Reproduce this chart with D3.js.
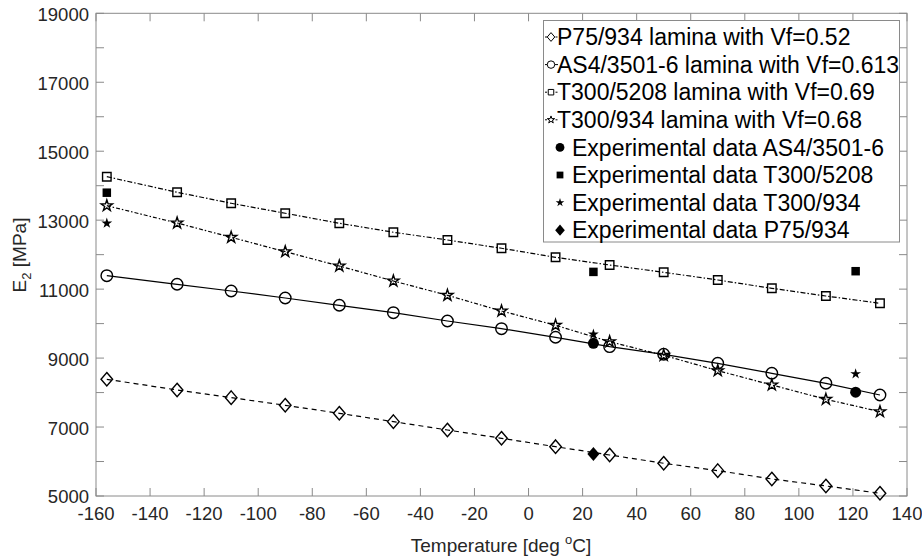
<!DOCTYPE html>
<html>
<head>
<meta charset="utf-8">
<script src="https://cdn.jsdelivr.net/npm/d3@7"></script>
<style>
  body { margin: 0; background: #fff; }
  text { font-family: "Liberation Sans", Arial, sans-serif; }
</style>
</head>
<body>
<div id="canvas"></div>
<script>
// temperatures (deg C) of the model curves
const temps = [-156, -130, -110, -90, -70, -50, -30, -10, 10, 30, 50, 70, 90, 110, 130];

// E2 [MPa] model curves
const p75 = [8385, 8075, 7852, 7631, 7399, 7156, 6915, 6674, 6430, 6190, 5949, 5735, 5494, 5291, 5079];
const as4 = [11390, 11140, 10946, 10743, 10531, 10317, 10076, 9853, 9603, 9331, 9110, 8849, 8559, 8269, 7930];
const t5208 = [14261, 13809, 13490, 13200, 12910, 12650, 12425, 12185, 11923, 11700, 11488, 11265, 11024, 10800, 10590];
const t934 = [13420, 12918, 12503, 12086, 11671, 11236, 10821, 10366, 9951, 9476, 9081, 8635, 8220, 7805, 7446];

// experimental points
const expAs4 = [[24, 9429], [121, 8010]];
const expT5208 = [[-156, 13797], [24, 11500], [121, 11520]];
const expT934 = [[-156, 12910], [24, 9690], [121, 8540]];
const expP75 = [[24, 6220]];

const xTicks = d3.range(-160, 141, 20);
const yTicks = d3.range(5000, 19001, 1000);
const yLabels = d3.range(5000, 19001, 2000);

const W = 922, H = 557;
const m = {left: 96, right: 15, top: 13.3, bottom: 61};

const svg = d3.select("#canvas")
  .append("svg")
  .attr("width", W)
  .attr("height", H);

const x = d3.scaleLinear().domain([-160, 140]).range([m.left, W - m.right]);
const y = d3.scaleLinear().domain([5000, 19000]).range([H - m.bottom, m.top]);

const axisColor = "#8a8a8a";
const textColor = "#262626";

// ticks (inside, on all four sides)
const tk = 8;
const g = svg.append("g");
xTicks.forEach(function(t) {
  g.append("line").attr("x1", x(t)).attr("x2", x(t)).attr("y1", y(5000)).attr("y2", y(5000) - tk)
    .attr("stroke", axisColor);
  g.append("line").attr("x1", x(t)).attr("x2", x(t)).attr("y1", y(19000)).attr("y2", y(19000) + tk)
    .attr("stroke", axisColor);
  g.append("text").attr("x", x(t)).attr("y", y(5000) + 24)
    .attr("text-anchor", "middle").attr("font-size", 18.5).attr("fill", textColor).text(t);
});
yTicks.forEach(function(t) {
  g.append("line").attr("x1", x(-160)).attr("x2", x(-160) + tk).attr("y1", y(t)).attr("y2", y(t))
    .attr("stroke", axisColor);
  g.append("line").attr("x1", x(140)).attr("x2", x(140) - tk).attr("y1", y(t)).attr("y2", y(t))
    .attr("stroke", axisColor);
});
yLabels.forEach(function(t) {
  g.append("text").attr("x", x(-160) - 7).attr("y", y(t) + 1).attr("dy", "0.35em")
    .attr("text-anchor", "end").attr("font-size", 18.5).attr("fill", textColor).text(t);
});
g.append("rect")
  .attr("x", x(-160)).attr("y", y(19000))
  .attr("width", x(140) - x(-160)).attr("height", y(5000) - y(19000))
  .attr("fill", "none").attr("stroke", axisColor);

// axis labels
const xl = svg.append("text").attr("x", 501).attr("y", 552)
  .attr("text-anchor", "middle").attr("font-size", 19).attr("fill", textColor);
xl.append("tspan").text("Temperature [deg ");
xl.append("tspan").attr("font-size", 13).attr("dy", -8).text("o");
xl.append("tspan").attr("dy", 8).text("C]");

const yl = svg.append("text").attr("transform", "translate(26,255) rotate(-90)")
  .attr("text-anchor", "middle").attr("font-size", 19).attr("fill", textColor);
yl.append("tspan").text("E");
yl.append("tspan").attr("font-size", 13).attr("dy", 5).text("2");
yl.append("tspan").attr("dy", -5).text(" [MPa]");

// marker shapes, s = overall size in px
function markerPath(kind, s) {
  if (kind == "diamond") {
    const w = s * 0.43, h = s * 0.5;
    return "M0," + (-h) + "L" + w + ",0L0," + h + "L" + (-w) + ",0Z";
  }
  if (kind == "circle") return d3.symbol(d3.symbolCircle, Math.PI * (s / 2) * (s / 2))();
  if (kind == "square") return d3.symbol(d3.symbolSquare, s * s)();
  if (kind == "star") return d3.symbol(d3.symbolStar, s * s * 0.3)();
}

const series = [
  {name: "P75/934 lamina with Vf=0.52", vals: p75, marker: "diamond", size: 13.5, dash: "5,4"},
  {name: "AS4/3501-6 lamina with Vf=0.613", vals: as4, marker: "circle", size: 11.5, dash: null},
  {name: "T300/5208 lamina with Vf=0.69", vals: t5208, marker: "square", size: 8.5, dash: "5,2,1.5,2"},
  {name: "T300/934 lamina with Vf=0.68", vals: t934, marker: "star", size: 11.5, dash: "4,2,1.5,2"}
];
const exps = [
  {name: "Experimental data AS4/3501-6", pts: expAs4, marker: "circle", size: 11},
  {name: "Experimental data T300/5208", pts: expT5208, marker: "square", size: 8.5},
  {name: "Experimental data T300/934", pts: expT934, marker: "star", size: 11},
  {name: "Experimental data P75/934", pts: expP75, marker: "diamond", size: 14}
];

const line = d3.line().x(function(d) { return x(d[0]); }).y(function(d) { return y(d[1]); });

series.forEach(function(s) {
  const pts = temps.map(function(t, i) { return [t, s.vals[i]]; });
  svg.append("path").attr("d", line(pts))
    .attr("fill", "none").attr("stroke", "#000").attr("stroke-width", 1.2)
    .attr("stroke-dasharray", s.dash);
  pts.forEach(function(p) {
    svg.append("path").attr("d", markerPath(s.marker, s.size))
      .attr("transform", "translate(" + x(p[0]) + "," + y(p[1]) + ")")
      .attr("fill", "none").attr("stroke", "#000").attr("stroke-width", 1.4);
  });
});

exps.forEach(function(s) {
  s.pts.forEach(function(p) {
    svg.append("path").attr("d", markerPath(s.marker, s.size))
      .attr("transform", "translate(" + x(p[0]) + "," + y(p[1]) + ")")
      .attr("fill", "#000");
  });
});

// legend
const lg = svg.append("g");
lg.append("rect").attr("x", 543.5).attr("y", 20.5).attr("width", 356).attr("height", 221.5)
  .attr("fill", "#fff").attr("stroke", axisColor);
const rowH = 27.6, row0 = 37;
series.forEach(function(s, i) {
  const cy = row0 + i * rowH;
  lg.append("line").attr("x1", 545).attr("x2", 558).attr("y1", cy).attr("y2", cy)
    .attr("stroke", "#000").attr("stroke-dasharray", s.dash ? "2,1.5" : null);
  lg.append("path").attr("d", markerPath(s.marker, s.size * 0.65))
    .attr("transform", "translate(551," + cy + ")")
    .attr("fill", "#fff").attr("stroke", "#000");
  lg.append("text").attr("x", 557).attr("y", cy).attr("dy", "0.36em")
    .attr("font-size", 23).attr("fill", "#000").text(s.name);
});
exps.forEach(function(s, i) {
  const cy = row0 + (i + 4) * rowH;
  lg.append("path").attr("d", markerPath(s.marker, s.size * 0.8))
    .attr("transform", "translate(560," + cy + ")")
    .attr("fill", "#000");
  lg.append("text").attr("x", 572).attr("y", cy).attr("dy", "0.36em")
    .attr("font-size", 23).attr("fill", "#000").text(s.name);
});
</script>
</body>
</html>
